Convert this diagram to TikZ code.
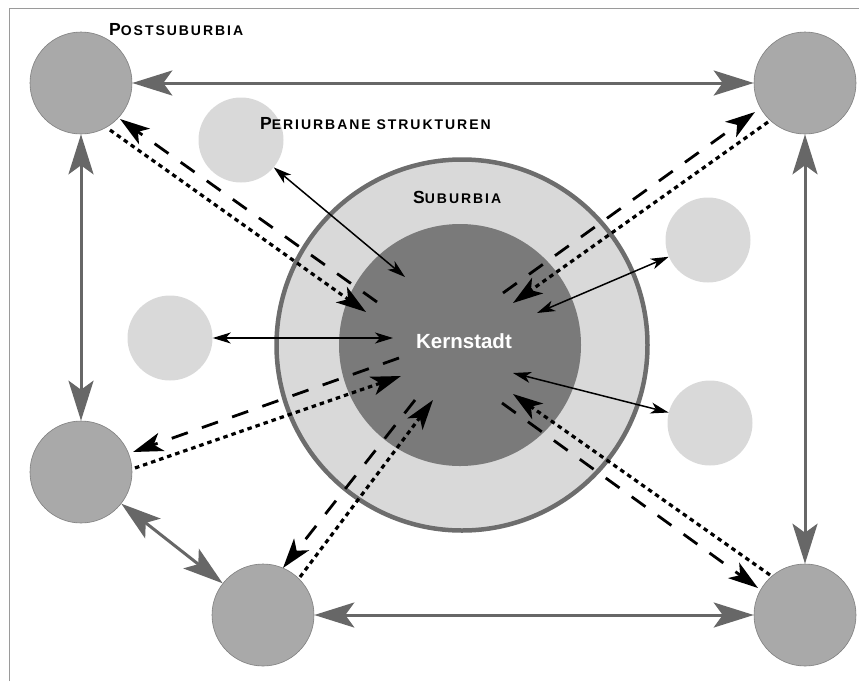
\documentclass[tikz,border=0pt]{standalone}
\usepackage{fontspec}
\setmainfont{Liberation Sans}
\newfontfamily\labfont{Liberation Sans}[LetterSpace=14]
\usetikzlibrary{arrows.meta}
\definecolor{postgray}{HTML}{A9A9A9}
\definecolor{postedge}{HTML}{7F7F7F}
\definecolor{perigray}{HTML}{D9D9D9}
\definecolor{ringedge}{HTML}{6D6D6D}
\definecolor{kerngray}{HTML}{7A7A7A}
\definecolor{arrowgray}{HTML}{676767}
\definecolor{framegray}{HTML}{9A9A9A}
\newcommand{\sclabel}[2]{{\labfont\bfseries{\fontsize{17.5}{17.5}\selectfont #1}{\fontsize{14}{14}\selectfont #2}}}
\tikzset{
  post/.style={circle, minimum size=102pt, inner sep=0pt, fill=postgray, draw=postedge, line width=0.6pt},
  peri/.style={circle, minimum size=85pt, inner sep=0pt, fill=perigray},
  subring/.style={circle, minimum size=371pt, inner sep=0pt, fill=perigray, draw=ringedge, line width=4.5pt},
  kern/.style={circle, minimum size=242pt, inner sep=0pt, fill=kerngray},
  grayarrow/.style={draw=arrowgray, line width=3pt,
    {Stealth[length=40pt,width=25pt,inset=9pt,fill=arrowgray]}-{Stealth[length=40pt,width=25pt,inset=9pt,fill=arrowgray]}},
  thinarrow/.style={draw=black, line width=1.5pt,
    {Stealth[length=18pt,width=11pt,inset=5pt]}-{Stealth[length=18pt,width=11pt,inset=5pt]}},
  dasharrow/.style={draw=black, line width=2.8pt, dash pattern=on 17pt off 15pt,
    -{Stealth[length=30pt,width=19pt,inset=8pt]}},
  dotarrow/.style={draw=black, line width=3.2pt, dash pattern=on 4.5pt off 4pt,
    -{Stealth[length=30pt,width=19pt,inset=8pt]}},
  lab/.style={inner sep=0pt, anchor=base west},
}
\begin{document}
\begin{tikzpicture}[x=1pt,y=-1pt]
\useasboundingbox (0,0) rectangle (859,681);
% frame
\draw[framegray, line width=1pt] (9,681) -- (9,8) -- (859,8);
% suburbia and core
\node[subring] (sub) at (462,345) {};
\node[kern] (k) at (460,345) {};
\node[inner sep=0pt, anchor=base, text=white, font=\bfseries\fontsize{20.5}{20.5}\selectfont] (kt) at (464,348) {Kernstadt};
% postsuburbia
\node[post] (tl) at (81,83) {};
\node[post] (tr) at (805,83) {};
\node[post] (lm) at (81,472) {};
\node[post] (bm) at (263,615) {};
\node[post] (br) at (805,615) {};
% periurbane
\node[peri] (p1) at (241,140) {};
\node[peri] (p2) at (170,338) {};
\node[peri] (p3) at (708,240) {};
\node[peri] (p4) at (710,423) {};
% labels
\node[lab] (l1) at (109,35) {\sclabel{P}{OSTSUBURBIA}};
\node[lab] (l2) at (260,129.5) {\sclabel{P}{ERIURBANE STRUKTUREN}};
\node[lab] (l3) at (413,203) {\sclabel{S}{UBURBIA}};
% gray arrows between postsuburbia
\draw[grayarrow] (tl) -- (tr);
\draw[grayarrow] (tl) -- (lm);
\draw[grayarrow] (tr) -- (br);
\draw[grayarrow] (lm) -- (bm);
\draw[grayarrow] (bm) -- (br);
% thin arrows periurbane - core
\coordinate (k1) at (405,277);
\coordinate (k2) at (393,338);
\coordinate (k3) at (537,313);
\coordinate (k4) at (513,373);
\draw[thinarrow] (p1) -- (k1);
\draw[thinarrow] (p2) -- (k2);
\draw[thinarrow] (p3) -- (k3);
\draw[thinarrow] (p4) -- (k4);
% dashed / dotted pairs
\coordinate (tlda) at (377,302); \coordinate (tldb) at (120,119);
\coordinate (tloa) at (110,130); \coordinate (tlob) at (366,312);
\coordinate (trda) at (503,293); \coordinate (trdb) at (755,112);
\coordinate (troa) at (768,122); \coordinate (trob) at (513,303);
\coordinate (lmda) at (399,358); \coordinate (lmdb) at (133,452);
\coordinate (lmoa) at (135,468); \coordinate (lmob) at (401,376);
\coordinate (bmda) at (415,400); \coordinate (bmdb) at (283,568);
\coordinate (bmoa) at (300,577); \coordinate (bmob) at (433,400);
\coordinate (brda) at (502,403); \coordinate (brdb) at (758,588);
\coordinate (broa) at (770,575); \coordinate (brob) at (513,394);
\draw[dasharrow] (tlda) -- (tldb);
\draw[dotarrow] (tloa) -- (tlob);
\draw[dasharrow] (trda) -- (trdb);
\draw[dotarrow] (troa) -- (trob);
\draw[dasharrow] (lmda) -- (lmdb);
\draw[dotarrow] (lmoa) -- (lmob);
\draw[dasharrow] (bmda) -- (bmdb);
\draw[dotarrow] (bmoa) -- (bmob);
\draw[dasharrow] (brda) -- (brdb);
\draw[dotarrow] (broa) -- (brob);
\end{tikzpicture}
\end{document}
